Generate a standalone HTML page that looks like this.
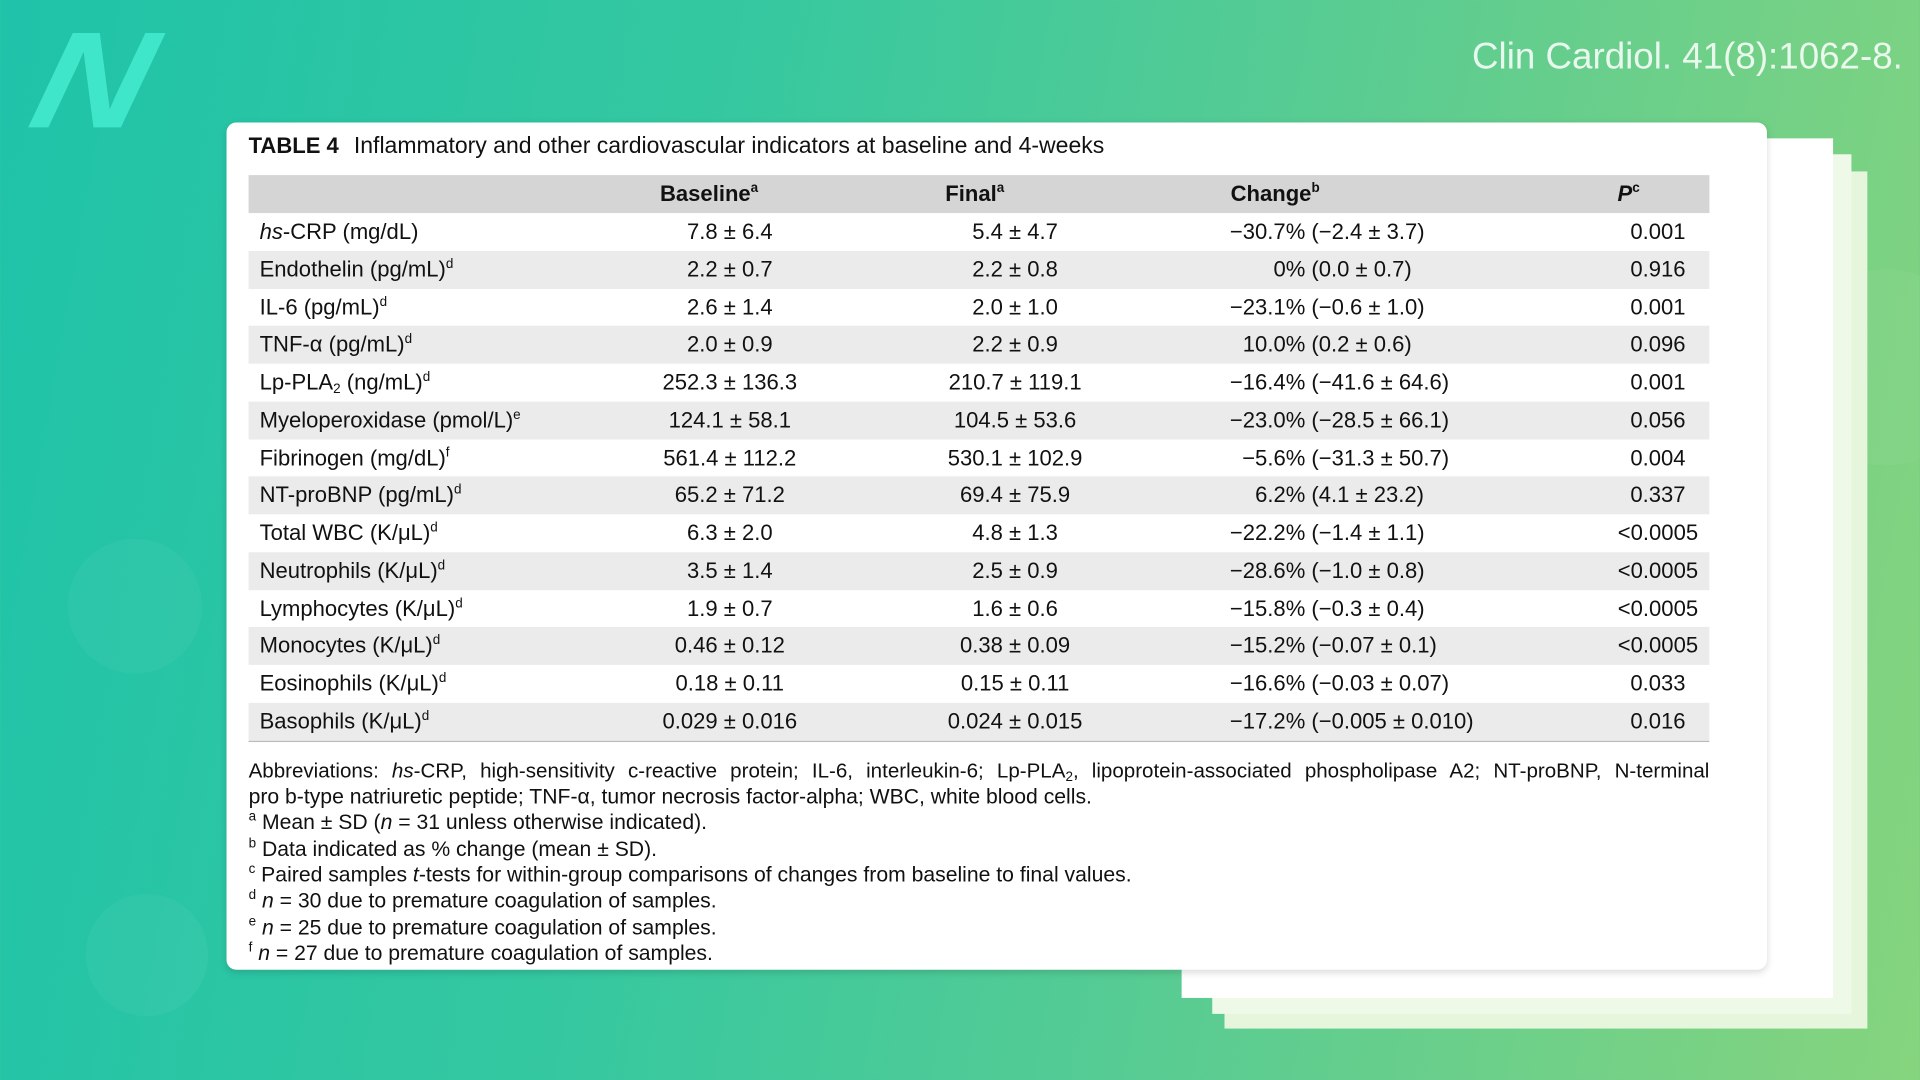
<!DOCTYPE html>
<html><head><meta charset="utf-8"><style>
html,body{margin:0;padding:0;width:1920px;height:1080px;overflow:hidden}
body{background:linear-gradient(100deg,#1fc3a9 0%,#35c8a0 35%,#5acc92 65%,#86d47e 100%);position:relative;font-family:"Liberation Sans",sans-serif}
#s{position:absolute;left:0;top:0;width:1568px;height:882px;transform:scale(1.22449);transform-origin:0 0}
.blob{position:absolute;border-radius:50%;background:rgba(255,255,255,0.04)}
.logo{position:absolute;left:36px;top:6px;font-size:112px;font-weight:bold;font-style:italic;color:#3fe6c9;transform:skewX(-14deg) scaleX(1.15);letter-spacing:-4px;line-height:120px}
.cite{position:absolute;right:14px;top:30px;font-size:30px;color:rgba(255,255,255,0.85)}
.pg{position:absolute;background:#fff}
.card{position:absolute;left:185px;top:100px;width:1258px;height:692px;background:#fff;border-radius:8px;box-shadow:0 2px 6px rgba(0,0,0,0.15)}
.t{position:absolute;font-size:18px;color:#111;white-space:nowrap;line-height:20px}
.hd{position:absolute;left:203px;top:143px;width:1193px;height:31px;background:#d5d5d5}
.r{position:absolute;left:203px;width:1193px;height:31px}
.g{background:#ebebeb}
sup{font-size:11px;vertical-align:7px;line-height:0}
sub{font-size:11px;vertical-align:-3px;line-height:0}
b{font-weight:bold}
.fn{position:absolute;left:203px;width:1193px;font-size:17.3px;color:#111;line-height:21.4px;white-space:nowrap}
</style></head><body>
<div id="s">
<div class="blob" style="left:55px;top:440px;width:110px;height:110px"></div>
<div class="blob" style="left:70px;top:730px;width:100px;height:100px"></div>
<div class="blob" style="left:1460px;top:220px;width:160px;height:160px"></div>
<div class="logo">N</div>
<div class="cite">Clin Cardiol. 41(8):1062-8.</div>
<div class="pg" style="left:1000px;top:140px;width:525px;height:700px;background:#e6f6dc"></div>
<div class="pg" style="left:990px;top:126px;width:522px;height:702px;background:#eef9e8"></div>
<div class="pg" style="left:965px;top:113px;width:532px;height:702px"></div>
<div class="card"></div>
<div class="t" style="left:203px;top:109px"><b>TABLE 4</b></div>
<div class="t" style="left:289px;top:109px;font-size:18.8px">Inflammatory and other cardiovascular indicators at baseline and 4-weeks</div>
<div class="hd"></div>
<div class="t" style="left:539px;top:148px"><b>Baseline<sup>a</sup></b></div>
<div class="t" style="left:772px;top:148px"><b>Final<sup>a</sup></b></div>
<div class="t" style="left:1005px;top:148px"><b>Change<sup>b</sup></b></div>
<div class="t" style="left:1321px;top:148px"><b><i>P</i><sup>c</sup></b></div>
<div id="rows"></div>
<div style="position:absolute;left:203px;top:605px;width:1193px;height:1px;background:#bbb"></div>
<div class="fn" style="top:619px;text-align:justify;text-align-last:justify;white-space:normal;font-size:16.8px">Abbreviations: <i>hs</i>-CRP, high-sensitivity c-reactive protein; IL-6, interleukin-6; Lp-PLA<sub>2</sub>, lipoprotein-associated phospholipase A2; NT-proBNP, N-terminal</div>
<div class="fn" style="top:640px">pro b-type natriuretic peptide; TNF-α, tumor necrosis factor-alpha; WBC, white blood cells.</div>
<div class="fn" style="top:661px"><sup>a</sup> Mean ± SD (<i>n</i> = 31 unless otherwise indicated).</div>
<div class="fn" style="top:683px"><sup>b</sup> Data indicated as % change (mean ± SD).</div>
<div class="fn" style="top:704px"><sup>c</sup> Paired samples <i>t</i>-tests for within-group comparisons of changes from baseline to final values.</div>
<div class="fn" style="top:725px"><sup>d</sup> <i>n</i> = 30 due to premature coagulation of samples.</div>
<div class="fn" style="top:747px"><sup>e</sup> <i>n</i> = 25 due to premature coagulation of samples.</div>
<div class="fn" style="top:768px"><sup>f</sup> <i>n</i> = 27 due to premature coagulation of samples.</div>
</div>
<script>
var d=[
["<i>hs</i>-CRP (mg/dL)","7.8 ± 6.4","5.4 ± 4.7","−30.7%","(−2.4 ± 3.7)","0.001"],
["Endothelin (pg/mL)<sup>d</sup>","2.2 ± 0.7","2.2 ± 0.8","0%","(0.0 ± 0.7)","0.916"],
["IL-6 (pg/mL)<sup>d</sup>","2.6 ± 1.4","2.0 ± 1.0","−23.1%","(−0.6 ± 1.0)","0.001"],
["TNF-α (pg/mL)<sup>d</sup>","2.0 ± 0.9","2.2 ± 0.9","10.0%","(0.2 ± 0.6)","0.096"],
["Lp-PLA<sub>2</sub> (ng/mL)<sup>d</sup>","252.3 ± 136.3","210.7 ± 119.1","−16.4%","(−41.6 ± 64.6)","0.001"],
["Myeloperoxidase (pmol/L)<sup>e</sup>","124.1 ± 58.1","104.5 ± 53.6","−23.0%","(−28.5 ± 66.1)","0.056"],
["Fibrinogen (mg/dL)<sup>f</sup>","561.4 ± 112.2","530.1 ± 102.9","−5.6%","(−31.3 ± 50.7)","0.004"],
["NT-proBNP (pg/mL)<sup>d</sup>","65.2 ± 71.2","69.4 ± 75.9","6.2%","(4.1 ± 23.2)","0.337"],
["Total WBC (K/μL)<sup>d</sup>","6.3 ± 2.0","4.8 ± 1.3","−22.2%","(−1.4 ± 1.1)","&lt;0.0005"],
["Neutrophils (K/μL)<sup>d</sup>","3.5 ± 1.4","2.5 ± 0.9","−28.6%","(−1.0 ± 0.8)","&lt;0.0005"],
["Lymphocytes (K/μL)<sup>d</sup>","1.9 ± 0.7","1.6 ± 0.6","−15.8%","(−0.3 ± 0.4)","&lt;0.0005"],
["Monocytes (K/μL)<sup>d</sup>","0.46 ± 0.12","0.38 ± 0.09","−15.2%","(−0.07 ± 0.1)","&lt;0.0005"],
["Eosinophils (K/μL)<sup>d</sup>","0.18 ± 0.11","0.15 ± 0.11","−16.6%","(−0.03 ± 0.07)","0.033"],
["Basophils (K/μL)<sup>d</sup>","0.029 ± 0.016","0.024 ± 0.015","−17.2%","(−0.005 ± 0.010)","0.016"]];
var h="";
for(var i=0;i<d.length;i++){var y=174+i*30.77,ty=y+5;var r=d[i];
h+='<div class="r'+(i%2?' g':'')+'" style="top:'+y+'px"></div>';
h+='<div class="t" style="left:212px;top:'+ty+'px">'+r[0]+'</div>';
h+='<div class="t" style="left:496px;width:200px;text-align:center;top:'+ty+'px">'+r[1]+'</div>';
h+='<div class="t" style="left:729px;width:200px;text-align:center;top:'+ty+'px">'+r[2]+'</div>';
h+='<div class="t" style="left:900px;width:166px;text-align:right;top:'+ty+'px">'+r[3]+'</div>';
h+='<div class="t" style="left:1071px;top:'+ty+'px">'+r[4]+'</div>';
h+='<div class="t" style="left:1294px;width:120px;text-align:center;top:'+ty+'px">'+r[5]+'</div>';}
document.getElementById("rows").outerHTML=h;
</script>
</body></html>
